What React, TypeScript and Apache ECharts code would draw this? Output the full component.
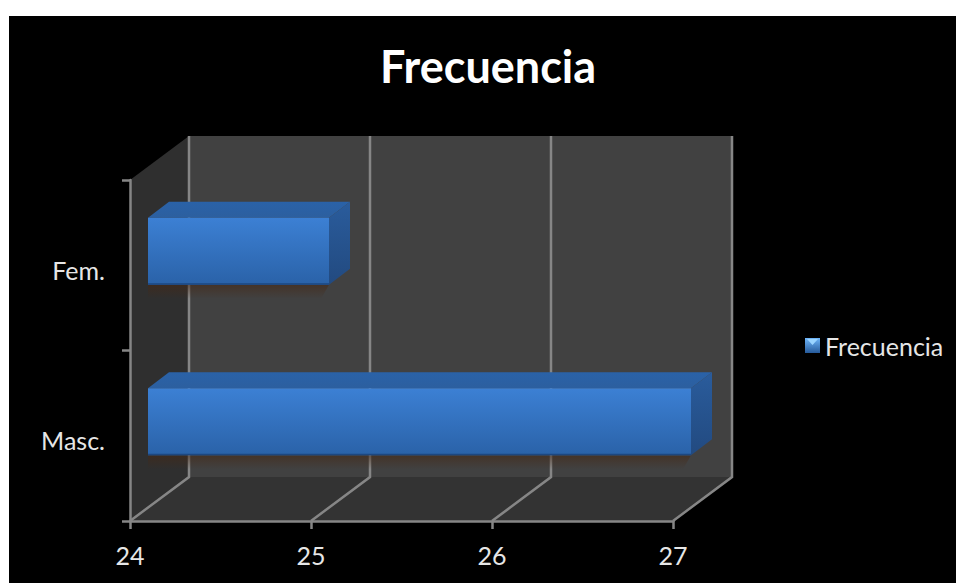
import React, { useEffect, useRef } from "react";
import * as echarts from "echarts";

const categories = ["Masc.", "Fem."];
const frecuencia = [27, 25];
const axisMin = 24;
const axisMax = 27;
const xTicks = [24, 25, 26, 27];
const seriesName = "Frecuencia";

// Perspective offsets of the 3D box: wall depth, bar placement and bar depth.
const WALL_DX = 59;
const WALL_DY = -44;
const BAR_DX = 18;
const BAR_DY = -14;
const BAR_DEPTH_X = 21;
const BAR_DEPTH_Y = -16;
const BAR_RATIO = 0.393;

const FONT = "Lato, 'Open Sans', sans-serif";
const LINE = "#868686";
const LINE_WIDTH = 2.5;

const vgrad = (a: string, b: string) =>
  new echarts.graphic.LinearGradient(0, 0, 0, 1, [
    { offset: 0, color: a },
    { offset: 1, color: b },
  ]);

const polygon = (points: number[][], fill: any, z2 = 0) => ({
  type: "polygon",
  z2,
  shape: { points },
  style: { fill, stroke: "none" },
});

export default function App() {
  const ref = useRef<HTMLDivElement>(null);

  useEffect(() => {
    const chart = echarts.init(ref.current!, undefined, { renderer: "svg" });

    // Side wall, back wall and floor of the 3D plot box.
    const renderWalls = (params: any) => {
      const { x, y, width, height } = params.coordSys;
      const r = x + width;
      const b = y + height;
      const dx = WALL_DX;
      const dy = WALL_DY;
      return {
        type: "group",
        children: [
          polygon([[x, y], [x + dx, y + dy], [x + dx, b + dy], [x, b]], "#2f2f2f"),
          polygon([[x + dx, y + dy], [r + dx, y + dy], [r + dx, b + dy], [x + dx, b + dy]], "#414141"),
          polygon([[x, b], [x + dx, b + dy], [r + dx, b + dy], [r, b]], "#333333"),
        ],
      };
    };

    // One gridline per tick: up the back wall and across the floor.
    const renderGrid = (params: any, api: any) => {
      const p = api.coord([api.value(0), 0]);
      const { y, height } = params.coordSys;
      const b = y + height;
      const style = { stroke: LINE, lineWidth: LINE_WIDTH, fill: "none" };
      return {
        type: "polyline",
        shape: {
          points: [
            [p[0], b],
            [p[0] + WALL_DX, b + WALL_DY],
            [p[0] + WALL_DX, y + WALL_DY],
          ],
        },
        style,
      };
    };

    // Bar as an extruded box: soft shadow, top, side and front faces.
    const renderBar = (_: any, api: any) => {
      const start = api.coord([axisMin, api.value(1)]);
      const end = api.coord([api.value(0), api.value(1)]);
      const h = api.size([0, 1])[1] * BAR_RATIO;
      const l = start[0] + BAR_DX;
      const r = end[0] + BAR_DX;
      const t = start[1] + BAR_DY - h / 2;
      const b = t + h;
      const ox = BAR_DEPTH_X;
      const oy = BAR_DEPTH_Y;
      return {
        type: "group",
        children: [
          polygon([[l, b], [r, b], [r - 8, b + 14], [l, b + 14]], vgrad("rgba(70,40,20,0.55)", "rgba(70,40,20,0)")),
          polygon([[l, t], [l + ox, t + oy], [r + ox, t + oy], [r, t]], vgrad("#2a62a8", "#2c5f9f")),
          polygon([[r, t], [r + ox, t + oy], [r + ox, b + oy], [r, b]], vgrad("#2a5c9c", "#224a80")),
          polygon([[l, t], [r, t], [r, b], [l, b]], vgrad("#3c80d4", "#2a62a8")),
          polygon([[l, b - 1.5], [r, b - 1.5], [r, b], [l, b]], "#1d4780"),
        ],
      };
    };

    chart.setOption({
      animation: false,
      backgroundColor: "transparent",
      title: {
        text: seriesName,
        left: 483,
        top: 38,
        textAlign: "center",
        textStyle: { color: "#ffffff", fontFamily: FONT, fontWeight: "bold", fontSize: 45 },
      },
      legend: {
        data: [seriesName],
        left: 800,
        top: 328,
        itemWidth: 15,
        itemHeight: 15,
        itemGap: 0,
        selectedMode: false,
        icon: "rect",
        itemStyle: { color: vgrad("#6fb6fa", "#265a9a") },
        textStyle: { color: "#e6e6e6", fontFamily: FONT, fontSize: 25 },
      },
      // Lighter chevron on the legend swatch, echoing the bevel of the bars.
      graphic: [
        {
          type: "polygon",
          z: 10,
          shape: { points: [[807, 339], [818, 339], [812.5, 345]] },
          style: { fill: "#9ad4ff" },
        },
      ],
      grid: { left: 130, top: 180, width: 543, height: 341 },
      xAxis: {
        type: "value",
        min: axisMin,
        max: axisMax,
        interval: 1,
        splitLine: { show: false },
        axisLine: { show: true, onZero: false, lineStyle: { color: LINE, width: LINE_WIDTH } },
        axisTick: { show: true, length: 8, lineStyle: { color: LINE, width: LINE_WIDTH } },
        axisLabel: { color: "#e6e6e6", fontFamily: FONT, fontSize: 25, margin: 21 },
      },
      yAxis: {
        type: "category",
        data: categories,
        splitLine: { show: false },
        axisLine: { show: true, lineStyle: { color: LINE, width: LINE_WIDTH } },
        axisTick: { show: true, length: 8, lineStyle: { color: LINE, width: LINE_WIDTH } },
        axisLabel: { color: "#e6e6e6", fontFamily: FONT, fontSize: 25, margin: 25, verticalAlign: "top", lineHeight: 9 },
      },
      series: [
        { type: "custom", name: "walls", z: -2, silent: true, renderItem: renderWalls, data: [[axisMin]], encode: { x: 0 } },
        { type: "custom", name: "grid", z: -1, silent: true, renderItem: renderGrid, data: xTicks.map((v) => [v]), encode: { x: 0 } },
        {
          type: "custom",
          name: seriesName,
          z: 3,
          renderItem: renderBar,
          data: frecuencia.map((v, i) => [v, i]),
          encode: { x: 0, y: 1 },
        },
      ],
    });

    return () => chart.dispose();
  }, []);

  return (
    <div style={{ position: "fixed", left: 0, top: 0, width: 956, height: 583, background: "#ffffff", overflow: "hidden" }}>
      <div style={{ position: "absolute", left: 9, top: 16, width: 947, height: 567, background: "#000000" }} />
      <div ref={ref} style={{ position: "absolute", left: 0, top: 0, width: 956, height: 583 }} />
    </div>
  );
}
